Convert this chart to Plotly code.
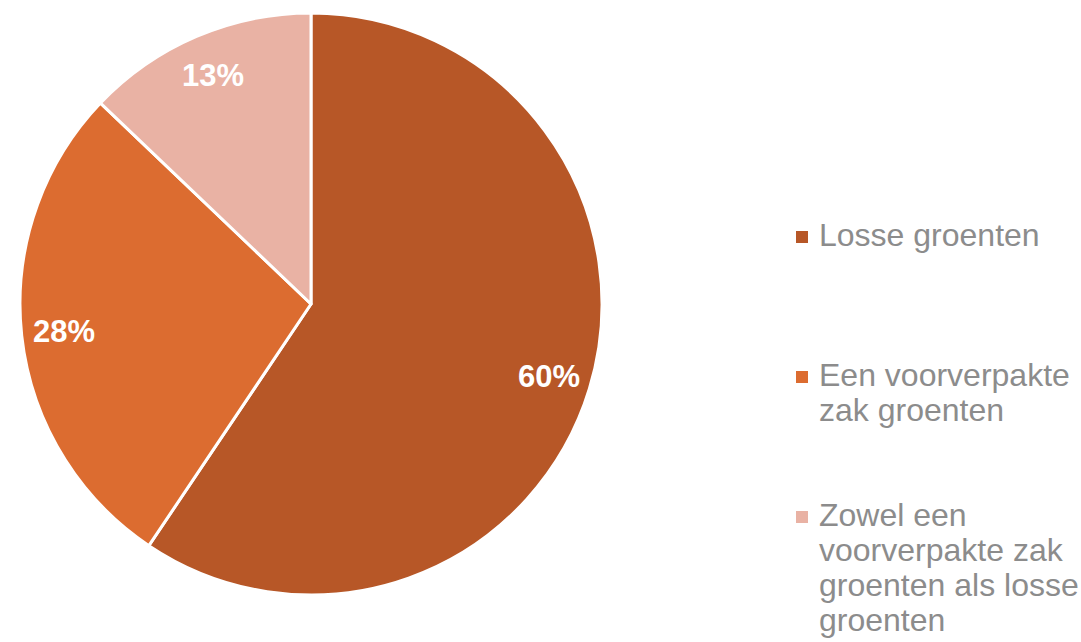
import math
import textwrap
import plotly.graph_objects as go

# ---- data ----
labels = ["Losse groenten",
          "Een voorverpakte zak groenten",
          "Zowel een voorverpakte zak groenten als losse groenten"]
values = [60, 28, 13]
colors = ["#B75727", "#DC6C30", "#E9B2A4"]

W, H = 1081, 642
# pie geometry (pixels)
cx, cy, R = 311, 304, 291
dom_x = [(cx - R) / W, (cx + R) / W]
dom_y = [1 - (cy + R) / H, 1 - (cy - R) / H]

fig = go.Figure(go.Pie(
    labels=labels,
    values=values,
    marker=dict(colors=colors, line=dict(color="white", width=3)),
    sort=False,
    direction="clockwise",
    rotation=0,
    textinfo="none",
    hoverinfo="label+value",
    showlegend=False,
    domain=dict(x=dom_x, y=dom_y),
))

annotations = []
shapes = []

# percentage labels placed along each slice bisector
total = sum(values)
cum = 0
for v in values:
    mid = (cum + v / 2) / total * 2 * math.pi
    cum += v
    rl = 0.855 * R
    px = cx + rl * math.sin(mid)
    py = cy - rl * math.cos(mid)
    annotations.append(dict(
        x=px / W, y=1 - py / H, xref="paper", yref="paper",
        text=f"{v}%", showarrow=False, xanchor="center", yanchor="middle",
        font=dict(family="Liberation Sans, Arial, sans-serif", size=31,
                  color="white", weight="bold"),
    ))

# legend
leg_x_sq = 796
leg_x_txt = 817
first_base = 246
item_step = 140
line_step = 35
sq = 12
for i, (lab, col) in enumerate(zip(labels, colors)):
    base = first_base + i * item_step
    shapes.append(dict(
        type="rect", xref="paper", yref="paper",
        x0=leg_x_sq / W, x1=(leg_x_sq + sq) / W,
        y0=1 - (base - 9 + sq / 2) / H, y1=1 - (base - 9 - sq / 2) / H,
        fillcolor=col, line=dict(width=0),
    ))
    for j, line in enumerate(textwrap.wrap(lab, width=18)):
        b = base + j * line_step
        annotations.append(dict(
            x=leg_x_txt / W, y=1 - (b - 11) / H, xref="paper", yref="paper",
            text=line, showarrow=False, xanchor="left", yanchor="middle",
            font=dict(family="Liberation Sans, Arial, sans-serif", size=32,
                      color="#8C8C8C"),
        ))

fig.update_layout(
    width=W, height=H,
    margin=dict(l=0, r=0, t=0, b=0),
    paper_bgcolor="white",
    plot_bgcolor="white",
    annotations=annotations,
    shapes=shapes,
    showlegend=False,
)

fig.write_html(
    "out.html",
    config={"displayModeBar": False},
    post_script="document.body.style.margin='0';document.body.style.overflow='hidden';",
)
